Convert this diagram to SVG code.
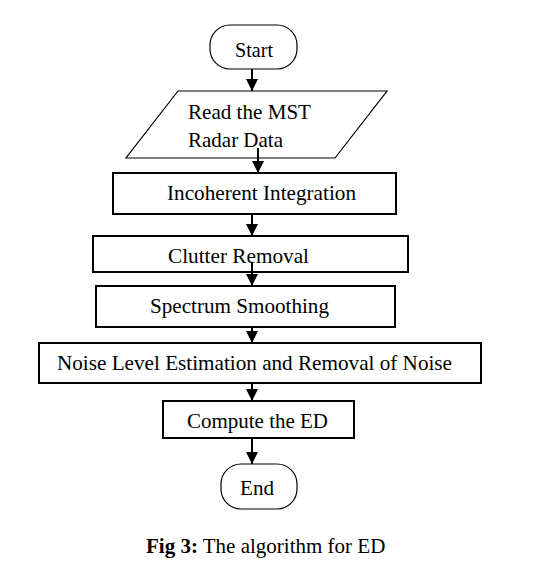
<svg xmlns="http://www.w3.org/2000/svg" width="536" height="570" viewBox="0 0 536 570">
<style>
.box{fill:#fff;stroke:#000;stroke-width:2}
.term{fill:#fff;stroke:#000;stroke-width:1.2}
.c{stroke:#000;stroke-width:2;fill:none}
</style>
<defs>
<marker id="ah" markerUnits="userSpaceOnUse" markerWidth="12" markerHeight="12" viewBox="0 0 12 12" refX="12" refY="6" orient="auto">
<path d="M0,0 L12,6 L0,12 Z" fill="#000"/>
</marker>
</defs>
<rect width="536" height="570" fill="#fff"/>
<g id="start"><rect class="term" x="210" y="25" width="87" height="44" rx="20"/><text font-family="Liberation Serif" font-size="22" x="235" y="57" textLength="38" lengthAdjust="spacingAndGlyphs">Start</text></g>
<g id="read"><polygon class="term" points="178,91 387,91 335,158 126,158"/><text font-family="Liberation Serif" font-size="22" x="188" y="119" textLength="123" lengthAdjust="spacingAndGlyphs">Read the MST</text><text font-family="Liberation Serif" font-size="22" x="188" y="147" textLength="95" lengthAdjust="spacingAndGlyphs">Radar Data</text></g>
<g id="incoherent"><rect class="box" x="113" y="173" width="283" height="41"/><text font-family="Liberation Serif" font-size="22" x="167" y="200" textLength="189" lengthAdjust="spacingAndGlyphs">Incoherent Integration</text></g>
<g id="clutter"><rect class="box" x="93" y="236" width="315" height="36"/><text font-family="Liberation Serif" font-size="22" x="168" y="263" textLength="141" lengthAdjust="spacingAndGlyphs">Clutter Removal</text></g>
<g id="smoothing"><rect class="box" x="96" y="286" width="299" height="41"/><text font-family="Liberation Serif" font-size="22" x="150" y="313" textLength="179" lengthAdjust="spacingAndGlyphs">Spectrum Smoothing</text></g>
<g id="noise"><rect class="box" x="39" y="343" width="442" height="40"/><text font-family="Liberation Serif" font-size="22" x="57" y="370" textLength="395" lengthAdjust="spacingAndGlyphs">Noise Level Estimation and Removal of Noise</text></g>
<g id="compute"><rect class="box" x="163" y="401" width="191" height="37"/><text font-family="Liberation Serif" font-size="22" x="187" y="428" textLength="141" lengthAdjust="spacingAndGlyphs">Compute the ED</text></g>
<g id="end"><rect class="term" x="221" y="464" width="76" height="45" rx="20"/><text font-family="Liberation Serif" font-size="22" x="240" y="495" textLength="34" lengthAdjust="spacingAndGlyphs">End</text></g>
<g id="connectors">
<line class="c" x1="252" y1="69" x2="252" y2="91" marker-end="url(#ah)"/>
<line class="c" x1="258" y1="148" x2="258" y2="173" marker-end="url(#ah)"/>
<line class="c" x1="252" y1="214" x2="252" y2="236" marker-end="url(#ah)"/>
<line class="c" x1="252" y1="263" x2="252" y2="286" marker-end="url(#ah)"/>
<line class="c" x1="252" y1="327" x2="252" y2="343" marker-end="url(#ah)"/>
<line class="c" x1="252" y1="383" x2="252" y2="401" marker-end="url(#ah)"/>
<line class="c" x1="252" y1="438" x2="252" y2="464" marker-end="url(#ah)"/>
</g>
<text font-family="Liberation Serif" font-size="21" x="146" y="553"><tspan font-weight="bold">Fig 3:</tspan> The algorithm for ED</text>
</svg>
